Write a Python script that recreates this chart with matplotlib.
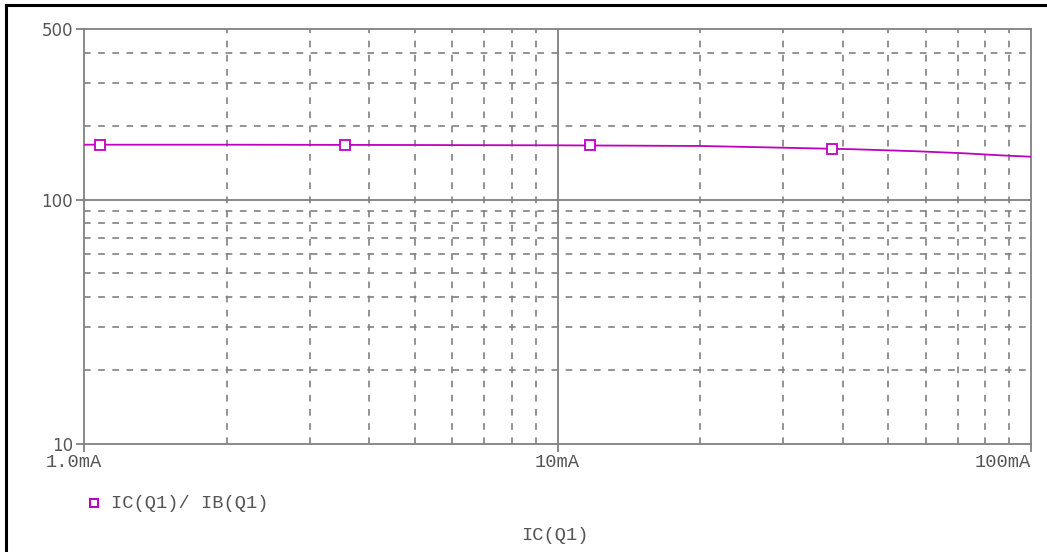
import matplotlib
matplotlib.use("Agg")
import matplotlib.pyplot as plt
from matplotlib.lines import Line2D
from matplotlib.ticker import FixedLocator, NullFormatter
import matplotlib.transforms as mtransforms

# Data (IC in A, beta = IC/IB)
ic = [1.0e-3, 2.0e-3, 5.0e-3, 10e-3, 20e-3, 27e-3, 42e-3, 57e-3, 72e-3, 86e-3, 100e-3]
beta = [168, 168, 167.5, 167, 166, 164, 161, 158, 155, 152, 150]
marker_ic = [1.08e-3, 3.56e-3, 11.7e-3, 38e-3]
marker_beta = [168, 168, 167, 161.5]

x_ticks = [1e-3, 10e-3, 100e-3]
x_ticklabels = ["1.0mA", "10mA", "100mA"]
y_ticks = [10, 100, 500]
y_ticklabels = ["10", "100", "500"]
legend_label = "IC(Q1)/ IB(Q1)"
x_label = "IC(Q1)"

GRID = "#808080"
TXT = "#555555"
MAG = "#c000c0"
MONO = "Liberation Mono"
MONO_SIZE = 13.5

fig = plt.figure(figsize=(10.47, 5.52), dpi=100)
W, H = 1047, 552
ax = fig.add_axes([84 / W, 1 - 444 / H, (1031 - 84) / W, (444 - 29) / H])
ax.set_xscale("log")
ax.set_yscale("log")
ax.set_xlim(1e-3, 100e-3)
ax.set_ylim(10, 500)

for s in ax.spines.values():
    s.set_color(GRID)
    s.set_linewidth(1.3)

ax.xaxis.set_major_locator(FixedLocator(x_ticks))
ax.yaxis.set_major_locator(FixedLocator(y_ticks))
xminor = [m * d for d in (1e-3, 1e-2) for m in range(2, 10)]
yminor = [m * d for d in (10, 100) for m in range(2, 10) if m * d < 500]
ax.xaxis.set_minor_locator(FixedLocator(xminor))
ax.yaxis.set_minor_locator(FixedLocator(yminor))
ax.xaxis.set_minor_formatter(NullFormatter())
ax.yaxis.set_minor_formatter(NullFormatter())
ax.set_xticklabels(x_ticklabels, fontfamily=MONO, fontsize=MONO_SIZE, color=TXT)
ax.set_yticklabels(y_ticklabels, fontfamily="DejaVu Sans", fontsize=12, color=TXT)
ax.tick_params(axis="both", which="major", length=6, width=1.3, color=GRID, direction="out")
ax.tick_params(axis="x", which="major", pad=1)
ax.tick_params(axis="y", which="major", pad=2)
ax.tick_params(axis="both", which="minor", length=0)

# major lines solid at 10mA / 100, minor dashed
ax.axvline(10e-3, color=GRID, lw=1.3, zorder=1)
ax.axhline(100, color=GRID, lw=1.3, zorder=1)
for xv in xminor:
    ax.axvline(xv, color=GRID, lw=1.2, ls=(0, (4, 4.5)), zorder=1)
for yv in yminor:
    ax.axhline(yv, color=GRID, lw=1.2, ls=(0, (4, 4.5)), zorder=1)

# first / last x tick labels shifted
lbls = ax.get_xticklabels()
lbls[0].set_transform(lbls[0].get_transform() + mtransforms.ScaledTranslation(-0.10, 0, fig.dpi_scale_trans))
lbls[-1].set_horizontalalignment("right")

ax.plot(ic, beta, color=MAG, lw=1.3, zorder=3)
ax.plot(marker_ic, marker_beta, ls="none", marker="s", ms=6.5, mfc="white", mec=MAG, mew=1.3, zorder=4)

# legend
fig.add_artist(Line2D([94 / W], [1 - 503 / H], marker="s", ms=5.5, mfc="white", mec=MAG, mew=1.5, ls="none"))
fig.text(111 / W, 1 - 503 / H, legend_label, fontfamily=MONO, fontsize=MONO_SIZE, color=TXT, ha="left", va="center")
fig.text(555 / W, 1 - 536 / H, x_label, fontfamily=MONO, fontsize=MONO_SIZE, color=TXT, ha="center", va="center")

# outer frame (top and left)
fig.add_artist(Line2D([6 / W, 6 / W], [0, 1 - 5 / H], color="black", lw=2.2))
fig.add_artist(Line2D([6 / W, 1], [1 - 5 / H, 1 - 5 / H], color="black", lw=2.2))

fig.savefig("out.png", dpi=100, facecolor="white")
